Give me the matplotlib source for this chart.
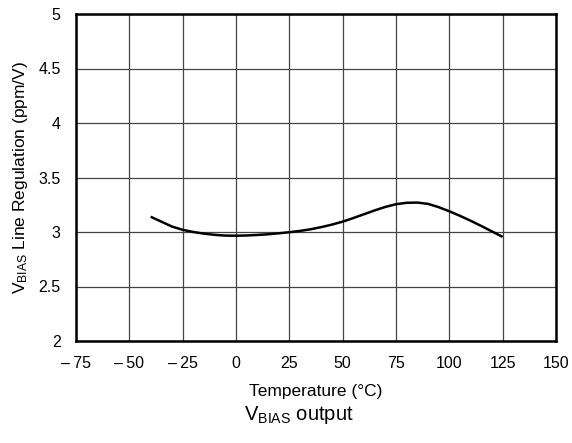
import numpy as np
from matplotlib import pyplot as plt

plt.rcParams['font.family'] = ['Liberation Sans', 'DejaVu Sans']

# values
temp = [-40, -35, -30, -25, -20, -15, -10, -5, 0, 5, 10, 15, 20, 25, 30, 35, 40,
        45, 50, 55, 60, 65, 70, 75, 80, 85, 90, 95, 100, 105, 110, 115, 120, 125]
reg = [3.14, 3.095, 3.05, 3.02, 3.0, 2.985, 2.974, 2.967, 2.966, 2.968, 2.973,
       2.979, 2.988, 2.998, 3.01, 3.025, 3.045, 3.068, 3.095, 3.128, 3.163,
       3.198, 3.23, 3.255, 3.268, 3.27, 3.258, 3.228, 3.19, 3.148, 3.103,
       3.055, 3.005, 2.955]

xticks = [-75, -50, -25, 0, 25, 50, 75, 100, 125, 150]
yticks = [2, 2.5, 3, 3.5, 4, 4.5, 5]
xlabels = ['\u2013\u200975', '\u2013\u200950', '\u2013\u200925', '0', '25', '50', '75', '100', '125', '150']
ylabels = ['2', '2.5', '3', '3.5', '4', '4.5', '5']

fig = plt.figure(figsize=(5.72, 4.43), dpi=100)
ax = fig.add_axes([76 / 572, 1 - 341 / 443, 480 / 572, 327 / 443])

ax.plot(temp, reg, color='black', lw=1.8, solid_capstyle='butt')

ax.set_xlim(-75, 150)
ax.set_ylim(2, 5)
ax.set_xticks(xticks)
ax.set_xticklabels(xlabels)
ax.set_yticks(yticks)
ax.set_yticklabels(ylabels)
ax.tick_params(length=0, labelsize=11.5)
ax.tick_params(axis='x', pad=10.5)
ax.tick_params(axis='y', pad=11)
ax.grid(True, color='#444444', lw=0.9)
ax.set_axisbelow(True)
for s in ax.spines.values():
    s.set_linewidth(1.8)

ax.set_xlabel('Temperature (\u00b0C)', fontsize=12.5, labelpad=10)
ax.set_ylabel(r'$\mathregular{V_{BIAS}}$ Line Regulation (ppm/V)', fontsize=12.5, labelpad=6)

fig.text(299 / 572, 1 - 415 / 443, r'$\mathregular{V_{BIAS}}$ output', fontsize=14.5,
         ha='center', va='center')

fig.savefig('out.png', dpi=100)
